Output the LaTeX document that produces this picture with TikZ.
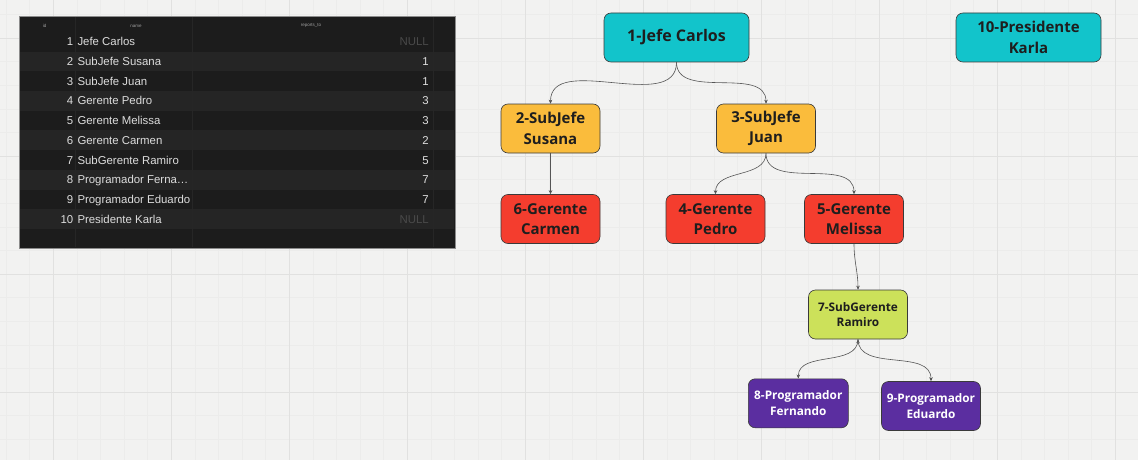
\documentclass[tikz,border=0pt]{standalone}
\usepackage{fontspec}
\setmainfont{Open Sans}
\newfontfamily\tablefont{Liberation Sans}
\usepackage{tikz}
\usetikzlibrary{arrows.meta}

\definecolor{canvas}{HTML}{F2F2F1}
\definecolor{gridminor}{HTML}{ECECEB}
\definecolor{gridmajor}{HTML}{E1E1E0}
\definecolor{tablebg}{HTML}{1C1C1C}
\definecolor{rowband}{HTML}{252525}
\definecolor{tablerule}{HTML}{262626}
\definecolor{celltext}{HTML}{DDDDDD}
\definecolor{nulltext}{HTML}{4A4A4A}
\definecolor{headtext}{HTML}{A0A0A0}
\definecolor{boxline}{HTML}{3A3A3A}
\definecolor{boxtext}{HTML}{1E1E1E}
\definecolor{cyanbox}{HTML}{12C4CB}
\definecolor{yellowbox}{HTML}{FABC3C}
\definecolor{redbox}{HTML}{F43D2E}
\definecolor{limebox}{HTML}{CCE15A}
\definecolor{purplebox}{HTML}{5B2EA0}
\definecolor{linkline}{HTML}{555555}

\tikzset{
  box/.style={draw=boxline, line width=0.6pt, rounded corners=7pt,
    minimum width=99pt, minimum height=49pt, inner sep=0pt, align=center,
    text=boxtext, font=\bfseries\fontsize{15}{20.5}\selectfont},
  wide/.style={minimum width=145pt},
  small/.style={font=\bfseries\fontsize{11.8}{15.5}\selectfont},
  link/.style={draw=linkline, line width=0.6pt,
    -{Stealth[length=4pt,width=3.5pt]}},
  cell/.style={inner sep=0pt, text=celltext,
    font=\tablefont\fontsize{11.4}{13}\selectfont},
  head/.style={inner sep=0pt, text=headtext,
    font=\tablefont\fontsize{4.5}{5}\selectfont}
}

\begin{document}
\begin{tikzpicture}[x=1pt,y=1pt]
\useasboundingbox (0,0) rectangle (1138,-460);
% canvas grid
\fill[canvas] (0,0) rectangle (1138,-460);
\foreach \i in {-2,...,46}
  \draw[gridminor, line width=0.5pt] ({53.3+23.6*\i},0) -- ++(0,-460);
\foreach \i in {-1,...,18}
  \draw[gridminor, line width=0.5pt] (0,{-38-23.6*\i}) -- ++(1138,0);
\foreach \i in {0,...,9}
  \draw[gridmajor, line width=0.7pt] ({53.3+118*\i},0) -- ++(0,-460);
\foreach \i in {0,...,3}
  \draw[gridmajor, line width=0.7pt] (0,{-38-118*\i}) -- ++(1138,0);

% query result table
\fill[tablebg] (19,-16) rectangle (455,-248);
\foreach \r in {2,4,...,10}
  \fill[rowband] (20,{-41.7-19.73*(\r-1)+9.86}) rectangle (454,{-41.7-19.73*(\r-1)-9.86});
\foreach \x in {75.3,192.3,433.7}
  \draw[tablerule, line width=0.5pt] (\x,-17) -- (\x,-247);
\draw[black!45, line width=0.6pt] (19,-16) rectangle (455,-248);
\node[head] (hid) at (44.7,-26) {id};
\node[head] (hname) at (136,-26) {name};
\node[head] (hboss) at (311,-26) {reports\_to};
\foreach \id/\name/\boss/\col [count=\r] in {
  1/Jefe Carlos/NULL/nulltext,
  2/SubJefe Susana/1/celltext,
  3/SubJefe Juan/1/celltext,
  4/Gerente Pedro/3/celltext,
  5/Gerente Melissa/3/celltext,
  6/Gerente Carmen/2/celltext,
  7/SubGerente Ramiro/5/celltext,
  8/Programador Ferna…/7/celltext,
  9/Programador Eduardo/7/celltext,
  10/Presidente Karla/NULL/nulltext}
{
  \node[cell, anchor=mid east] (id-\r) at (73.5,{-43-19.73*(\r-1)}) {\id};
  \node[cell, anchor=mid west] (name-\r) at (77.3,{-43-19.73*(\r-1)}) {\name};
  \node[cell, anchor=mid east, text=\col] (boss-\r) at (429,{-43-19.73*(\r-1)}) {\boss};
}

% org chart
\node[box, wide, fill=cyanbox, font=\bfseries\fontsize{16}{20}\selectfont] (jefe) at (676.5,-37.5) {1-Jefe Carlos};
\node[box, wide, fill=cyanbox] (presidente) at (1028.5,-37.5) {10-Presidente\\Karla};
\node[box, fill=yellowbox] (susana) at (550.5,-128.5) {2-SubJefe\\Susana};
\node[box, fill=yellowbox] (juan) at (766,-128.5) {3-SubJefe\\Juan};
\node[box, fill=redbox] (carmen) at (550.5,-219) {6-Gerente\\Carmen};
\node[box, fill=redbox] (pedro) at (715.5,-219) {4-Gerente\\Pedro};
\node[box, fill=redbox] (melissa) at (854,-219) {5-Gerente\\Melissa};
\node[box, small, fill=limebox] (ramiro) at (858,-314.5) {7-SubGerente\\Ramiro};
\node[box, small, fill=purplebox, text=white, minimum width=100pt] (fernando) at (798.3,-403.3) {8-Programador\\Fernando};
\node[box, small, fill=purplebox, text=white] (eduardo) at (931,-406) {9-Programador\\Eduardo};

\path[link]
  (jefe.south) edge[out=-90, in=90] (susana.north)
  (jefe.south) edge[out=-90, in=90] (juan.north)
  (susana.south) edge (carmen.north)
  (juan.south) edge[out=-90, in=90] (pedro.north)
  (juan.south) edge[out=-90, in=90] (melissa.north)
  (melissa.south) edge[out=-90, in=90] (ramiro.north)
  (ramiro.south) edge[out=-90, in=90] (fernando.north)
  (ramiro.south) edge[out=-90, in=90] (eduardo.north)
;
\end{tikzpicture}
\end{document}
